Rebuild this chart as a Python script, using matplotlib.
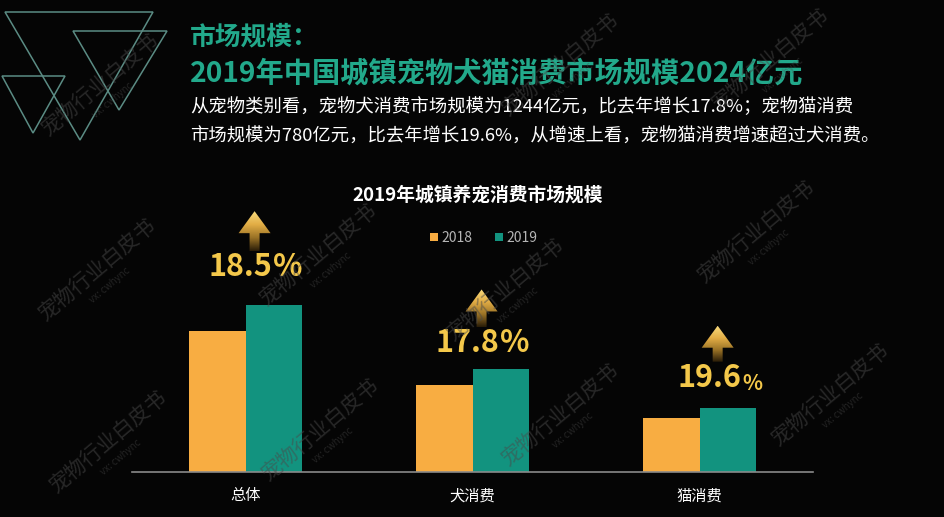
import numpy as np
import matplotlib
matplotlib.use("Agg")
import matplotlib.pyplot as plt
from matplotlib.patches import Polygon

plt.rcParams['font.family'] = ['Noto Sans CJK SC', 'DejaVu Sans']

# 数据
categories = ["总体", "犬消费", "猫消费"]
years = ["2018", "2019"]
values_2018 = [1708, 1056, 652]
values_2019 = [2024, 1244, 780]
growth = ["18.5", "17.8", "19.6"]

headline = "市场规模："
subhead = "2019年中国城镇宠物犬猫消费市场规模2024亿元"
desc_lines = ["从宠物类别看，宠物犬消费市场规模为1244亿元，比去年增长17.8%；宠物猫消费",
              "市场规模为780亿元，比去年增长19.6%，从增速上看，宠物猫消费增速超过犬消费。"]
chart_title = "2019年城镇养宠消费市场规模"

c18 = "#f8ad42"
c19 = "#12937f"
teal_txt = "#22a98b"
gold = "#f4c84a"
bg = "#050505"

W, H = 945, 517
fig = plt.figure(figsize=(W / 100, H / 100), dpi=100, facecolor=bg)

# 主图
ax = fig.add_axes([132 / W, 45 / H, 681 / W, 272 / H])
ax.set_facecolor("none")
x = np.arange(len(categories))
bw = 0.25
b1 = ax.bar(x - bw / 2, values_2018, bw, color=c18, label=years[0], zorder=2)
b2 = ax.bar(x + bw / 2, values_2019, bw, color=c19, label=years[1], zorder=2)
ax.set_xlim(-0.5, 2.5)
ax.set_ylim(0, 3300)
ax.set_yticks([])
ax.set_xticks(x)
ax.set_xticklabels(categories, color="white", fontsize=11)
ax.tick_params(axis="x", length=0, pad=11)
for s in ["top", "right", "left"]:
    ax.spines[s].set_visible(False)
ax.spines["bottom"].set_color("#8a8a8a")
ax.spines["bottom"].set_linewidth(1.2)

leg = ax.legend(handles=[b1, b2], ncol=2, frameon=False, loc="center",
                bbox_to_anchor=(484 / W, 1 - 238 / H), bbox_transform=fig.transFigure,
                handlelength=0.55, handleheight=0.55, handletextpad=0.3,
                columnspacing=1.6, fontsize=10)
for t in leg.get_texts():
    t.set_color("#b5b5b5")

# 覆盖层（像素坐标）
ov = fig.add_axes([0, 0, 1, 1], zorder=5)
ov.set_facecolor("none")
ov.axis("off")

# 左上角三角形标志
tri_color = "#5b8c84"
for pts in [[(5, 12), (153, 12), (80, 140)],
            [(73, 31), (167, 31), (119, 110)],
            [(2, 76), (65, 76), (33, 133)]]:
    ov.add_patch(Polygon(pts, closed=True, fill=False, edgecolor=tri_color, lw=1.1))

# 标题与说明文字
ov.text(190, 37, headline, color=teal_txt, fontsize=18.5, fontweight="bold", va="center", ha="left")
ov.text(190, 74, subhead, color=teal_txt, fontsize=20.3, fontweight="bold", va="center", ha="left")
ov.text(190, 107, desc_lines[0], color="white", fontsize=13.2, va="center", ha="left")
ov.text(190, 137, desc_lines[1], color="white", fontsize=13.2, va="center", ha="left")
ov.text(478, 195, chart_title, color="white", fontsize=13.5, fontweight="bold", va="center", ha="center")

# 增长箭头和百分比
grad = np.linspace(0, 1, 100)[:, None]
cmap = matplotlib.colors.LinearSegmentedColormap.from_list(
    "g", ["#f8da7c", "#e2ad45", "#9a7226", "#2a1d08"])
label_off = [38, 26, 30]
arrow_off = [94, 80, 82]
dx_off = [0.04, 0.04, 0.08]
num_dx = [-14, -14, -8]
pct_size = [22, 22, 15]
for i, v in enumerate(values_2019):
    dxp, dyp = ax.transData.transform((x[i] + dx_off[i], v))
    px, py = dxp, H - dyp
    num = ov.text(px + num_dx[i], py - label_off[i], growth[i], color=gold, fontsize=22,
                  fontweight="bold", ha="center", va="center")
    ov.annotate("%", xy=(1, 0), xycoords=num, xytext=(0.5, 0), textcoords="offset points",
                color=gold, fontsize=pct_size[i], fontweight="bold", ha="left", va="bottom")
    top = py - arrow_off[i]
    hb = top + 22
    bot = py - label_off[i] - 16
    pts = [(px, top), (px + 16, hb), (px + 5, hb), (px + 5, bot),
           (px - 5, bot), (px - 5, hb), (px - 16, hb)]
    poly = Polygon(pts, closed=True, facecolor="none", edgecolor="none")
    ov.add_patch(poly)
    im = ov.imshow(grad, cmap=cmap, extent=(px - 17, px + 17, bot, top),
                   origin="upper", aspect="auto", zorder=3)
    im.set_clip_path(poly)

# 水印
wm = [(100, 85), (97, 270), (108, 442), (318, 255), (320, 430), (560, 65),
      (505, 290), (560, 415), (756, 232), (830, 395), (770, 60)]
ang = np.deg2rad(40)
for cx, cy in wm:
    ov.text(cx, cy, "宠物行业白皮书", color="#4a4a4a", alpha=0.5, fontsize=15,
            rotation=40, rotation_mode="anchor", ha="center", va="center", zorder=6)
    ov.text(cx + 14 * np.sin(ang) + 4, cy + 14 * np.cos(ang) + 4, "vx: cwhync", color="#4a4a4a",
            alpha=0.45, fontsize=7, rotation=40, rotation_mode="anchor",
            ha="center", va="center", zorder=6)

ov.set_xlim(0, W)
ov.set_ylim(H, 0)

fig.savefig("out.png", dpi=100, facecolor=bg)
